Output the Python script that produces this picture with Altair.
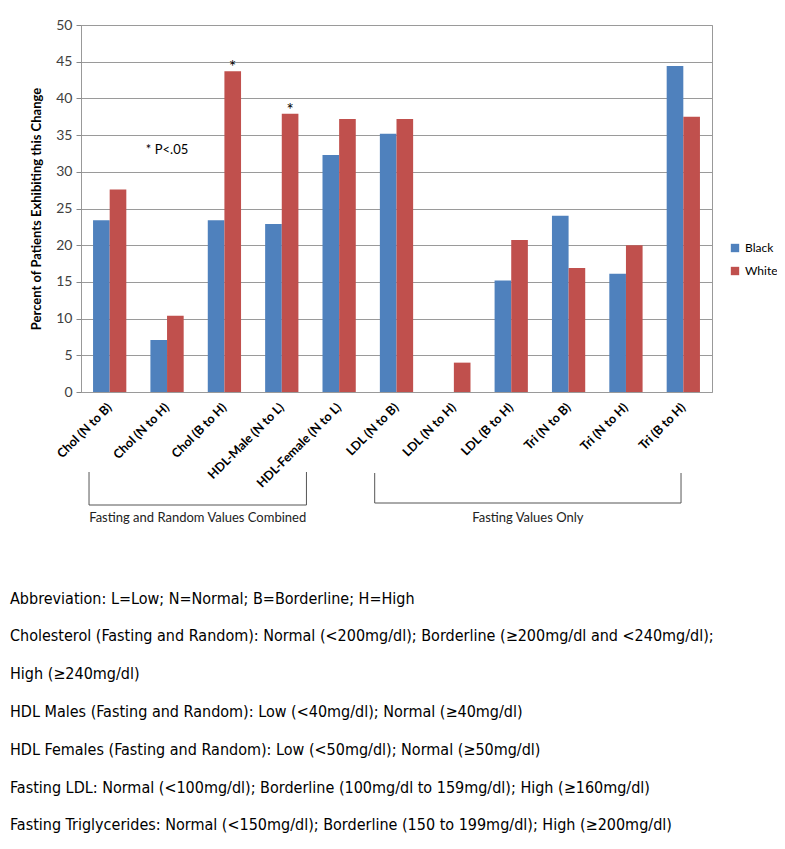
import altair as alt
import pandas as pd

categories = ["Chol (N to B)", "Chol (N to H)", "Chol (B to H)", "HDL-Male (N to L)",
              "HDL-Female (N to L)", "LDL (N to B)", "LDL (N to H)", "LDL (B to H)",
              "Tri (N to B)", "Tri (N to H)", "Tri (B to H)"]
black = [23.4, 7.1, 23.4, 22.9, 32.3, 35.2, 0.0, 15.2, 24.0, 16.1, 44.4]
white = [27.6, 10.4, 43.7, 37.9, 37.2, 37.2, 4.0, 20.7, 16.9, 20.0, 37.5]
groups = ["Black", "White"]
colors = ["#4F81BD", "#C0504D"]
y_ticks = [0, 5, 10, 15, 20, 25, 30, 35, 40, 45, 50]

significant = ["Chol (B to H)", "HDL-Male (N to L)"]

brackets_label = ["Fasting and  Random Values Combined", "Fasting Values Only"]
bracket_start = [0.14, 5.12]
bracket_end = [3.93, 10.46]

notes = [
    "Abbreviation: L=Low; N=Normal; B=Borderline; H=High",
    "Cholesterol (Fasting and Random): Normal (<200mg/dl); Borderline (\u2265200mg/dl and <240mg/dl);",
    "High (\u2265240mg/dl)",
    "HDL Males (Fasting and Random): Low (<40mg/dl); Normal (\u226540mg/dl)",
    "HDL Females (Fasting and Random): Low (<50mg/dl); Normal (\u226550mg/dl)",
    "Fasting LDL: Normal (<100mg/dl); Borderline (100mg/dl to 159mg/dl); High (\u2265160mg/dl)",
    "Fasting Triglycerides: Normal (<150mg/dl); Borderline (150 to 199mg/dl); High (\u2265200mg/dl)",
]

rows = []
for c, b, w in zip(categories, black, white):
    rows.append({"cat": c, "grp": "Black", "val": b})
    rows.append({"cat": c, "grp": "White", "val": w})
df = pd.DataFrame(rows)

W, H = 631, 367
FONT = "Lato"

xenc = alt.X("cat:N", sort=categories, title=None,
             scale=alt.Scale(paddingInner=0.42, paddingOuter=0.21),
             axis=alt.Axis(labelAngle=-45, labelAlign="right", labelBaseline="middle",
                           labelFont=FONT, labelFontWeight="bold", labelFontSize=12.5,
                           labelColor="#000000", ticks=False, domain=False, grid=False,
                           labelPadding=13, labelOffset=0, labelLimit=300))

yaxis = alt.Axis(values=y_ticks, labelFont=FONT, labelFontSize=14,
                 labelColor="#404040", tickSize=5, tickColor="#888888", grid=True,
                 gridColor="#9a9a9a", domain=False, labelPadding=4,
                 titleFont=FONT, titleFontSize=13, titleFontWeight="bold",
                 titleColor="#000000", titlePadding=12)
yenc = alt.Y("val:Q", scale=alt.Scale(domain=[0, 50]),
             title="Percent of Patients Exhibiting this Change", axis=yaxis)

bars = alt.Chart(df).mark_bar().encode(
    x=xenc,
    xOffset=alt.XOffset("grp:N", sort=groups, scale=alt.Scale(paddingInner=0, paddingOuter=0)),
    y=yenc,
    color=alt.Color("grp:N", sort=groups, scale=alt.Scale(domain=groups, range=colors),
                    legend=alt.Legend(title=None, orient="none", legendX=648, legendY=217,
                                      padding=0, symbolType="square", symbolSize=70,
                                      symbolStrokeWidth=0, labelFont=FONT, labelFontSize=12,
                                      labelOffset=4, labelColor="#000000", rowPadding=11)),
)

stars = alt.Chart(df[(df.grp == "White") & (df.cat.isin(significant))]).mark_text(
    text="*", font=FONT, fontSize=17, dy=2, baseline="alphabetic", color="#000000"
).encode(
    x=xenc,
    xOffset=alt.XOffset("grp:N", sort=groups),
    y=yenc,
)

pnote = alt.Chart(pd.DataFrame({"cat": ["Chol (N to H)"], "val": [33.0], "t": ["* P<.05"]})).mark_text(
    font=FONT, fontSize=13, color="#000000"
).encode(x=xenc, y=yenc, text="t:N")

main = alt.layer(bars, stars, pnote)

# brackets on a category-unit scale
seg = pd.DataFrame({
    "x": [bracket_start[0], bracket_start[0], bracket_end[0], bracket_start[1], bracket_start[1], bracket_end[1]],
    "x2": [bracket_end[0], bracket_start[0], bracket_end[0], bracket_end[1], bracket_start[1], bracket_end[1]],
    "y": [480, 447, 447, 478, 448, 448],
    "y2": [480, 480, 480, 478, 478, 478],
})
qx = alt.Scale(domain=[0, len(categories)])
ypix = alt.Scale(domain=[0, H], range=[0, H])
brk = alt.Chart(seg).mark_rule(color="#555555", strokeWidth=1).encode(
    x=alt.X("x:Q", scale=qx, axis=None),
    x2="x2:Q",
    y=alt.Y("y:Q", scale=ypix, axis=None),
    y2="y2:Q",
)
lab = pd.DataFrame({"x": [(bracket_start[0] + bracket_end[0]) / 2, (bracket_start[1] + bracket_end[1]) / 2],
                    "y": [493, 493], "t": brackets_label})
brk_text = alt.Chart(lab).mark_text(font=FONT, fontSize=13, color="#222222", baseline="middle").encode(
    x=alt.X("x:Q", scale=qx, axis=None),
    y=alt.Y("y:Q", scale=ypix, axis=None),
    text="t:N",
)

note_df = pd.DataFrame({"t": notes, "y": [574, 611, 649, 687, 725, 763, 800]})
note_text = alt.Chart(note_df).mark_text(
    font="Liberation Sans Narrow, DejaVu Sans Condensed, sans-serif", fontSize=16,
    align="left", baseline="middle", color="#000000"
).encode(
    x=alt.value(-71),
    y=alt.Y("y:Q", scale=ypix, axis=None),
    text="t:N",
)

chart = alt.layer(main, brk, brk_text, note_text).resolve_scale(x="independent", y="independent").properties(
    width=W, height=H,
    autosize=alt.AutoSizeParams(type="none"),
    padding={"left": 73, "top": 17, "right": 65, "bottom": 444},
).configure_view(stroke="#999999")

chart.save("out.html", embed_options={"renderer": "svg", "actions": False})
